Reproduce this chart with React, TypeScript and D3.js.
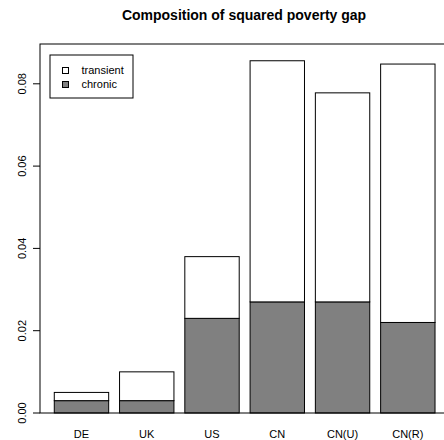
import React from "react";
import * as d3 from "d3";

const categories = ["DE", "UK", "US", "CN", "CN(U)", "CN(R)"];
const chronic = [0.003, 0.003, 0.023, 0.027, 0.027, 0.022];
const totals = [0.005, 0.010, 0.038, 0.0856, 0.0778, 0.0848];
const yTicks = [0, 0.02, 0.04, 0.06, 0.08];
const legendItems = ["transient", "chronic"];
const legendFills = ["#ffffff", "#808080"];
const title = "Composition of squared poverty gap";

export default function App() {
  const W = 444, H = 440;
  const left = 40, top = 44, bottom = 413, right = 462;
  const x = d3.scaleBand<string>().domain(categories).range([43.4, 445.9]).paddingInner(1 / 6).paddingOuter(1 / 6);
  const y = d3.scaleLinear().domain([0, 0.08]).range([bottom, bottom - 4 * 82.3]);
  const font = "'Liberation Sans', Arial, Helvetica, sans-serif";
  return (
    <svg width={W} height={H} style={{ position: "absolute", left: 0, top: 0, background: "#fff" }} fontFamily={font}>
      <rect x={0} y={0} width={W} height={H} fill="#fff" />
      <text x={244} y={20} textAnchor="middle" fontWeight="bold" fontSize={14}>{title}</text>
      {categories.map((c, i) => {
        const bx = x(c)!;
        const bw = x.bandwidth();
        return (
          <g key={c}>
            <rect x={bx} y={y(chronic[i])} width={bw} height={y(0) - y(chronic[i])} fill="#808080" stroke="#000" strokeWidth={1} />
            <rect x={bx} y={y(totals[i])} width={bw} height={y(chronic[i]) - y(totals[i])} fill="#fff" stroke="#000" strokeWidth={1} />
            <text x={bx + bw / 2} y={438} textAnchor="middle" fontSize={11}>{c}</text>
          </g>
        );
      })}
      <rect x={left} y={top} width={right - left} height={bottom - top} fill="none" stroke="#000" strokeWidth={1} />
      {yTicks.map((t) => (
        <g key={t} transform={`translate(${left},${y(t)})`}>
          <line x1={-7} x2={0} stroke="#000" />
          <text transform="translate(-18,0) rotate(-90)" textAnchor="middle" dy="0.35em" fontSize={11}>{d3.format(".2f")(t)}</text>
        </g>
      ))}
      <rect x={50} y={55} width={83} height={43} fill="#fff" stroke="#000" />
      {legendItems.map((l, i) => (
        <g key={l} transform={`translate(0,${70.5 + i * 14})`}>
          <rect x={62.5} y={-3} width={6} height={6} fill={legendFills[i]} stroke="#000" />
          <text x={81.5} y={0} dy="0.35em" fontSize={11}>{l}</text>
        </g>
      ))}
    </svg>
  );
}
